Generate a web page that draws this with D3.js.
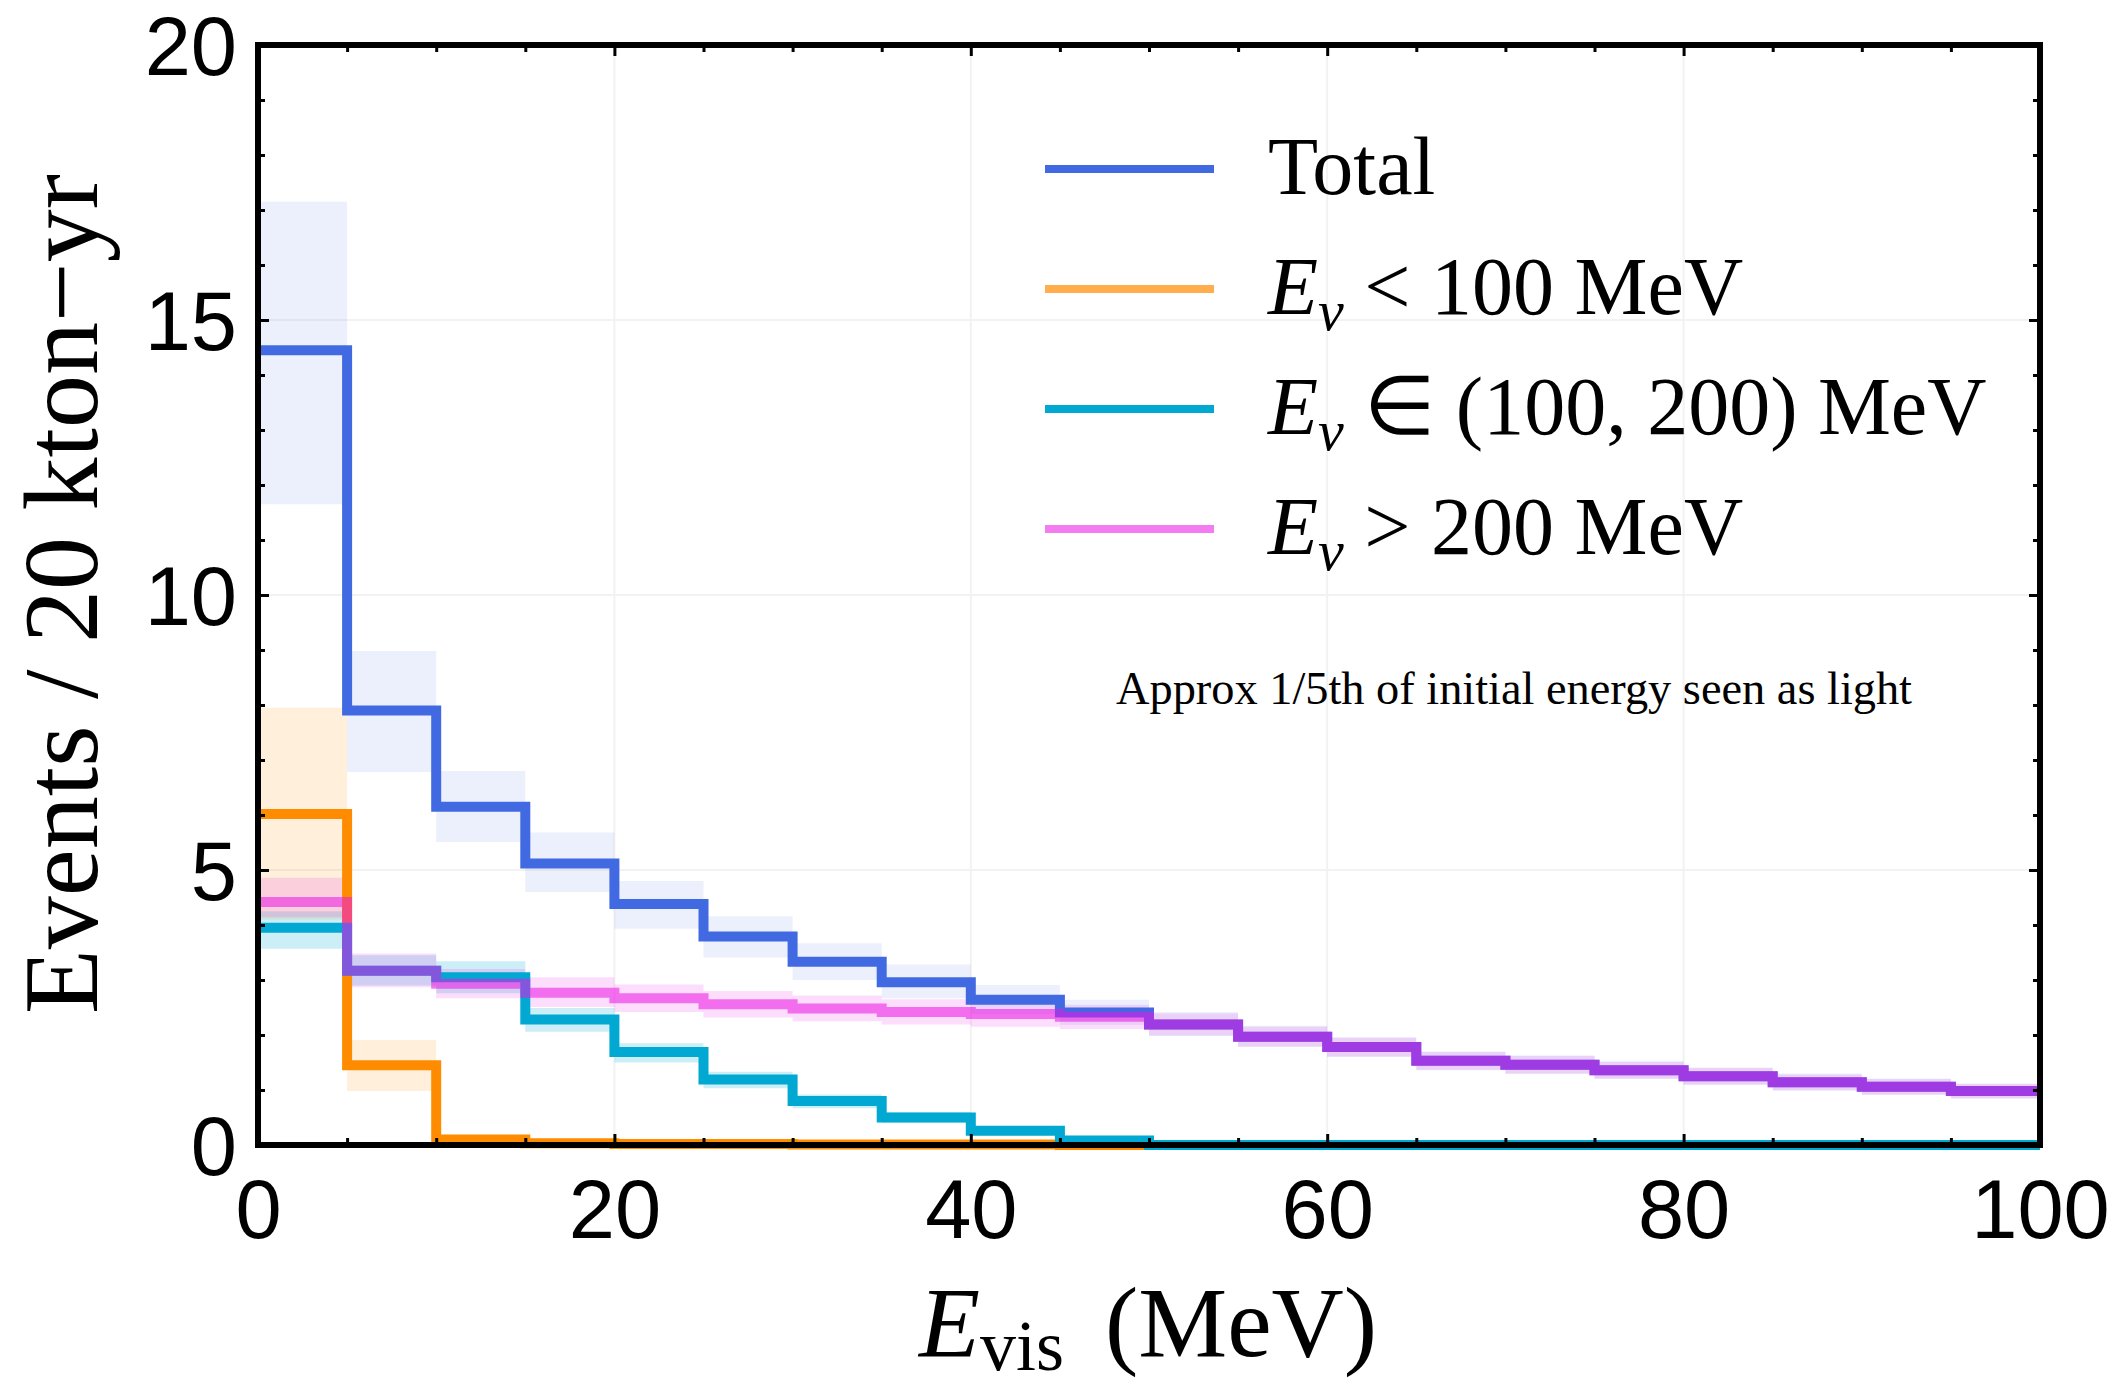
<!DOCTYPE html>
<html>
<head>
<meta charset="utf-8">
<script src="https://cdn.jsdelivr.net/npm/d3@7.9.0/dist/d3.min.js"></script>
<style>
  body { margin: 0; background: #fff; }
  svg { display: block; }
  .serif { font-family: "Liberation Serif", "Times New Roman", serif; fill: #000; }
  .tick text { font-family: "Liberation Sans", Arial, sans-serif; fill: #000; }
</style>
</head>
<body>
<svg id="chart" width="2122" height="1392"></svg>
<script>
// 1. Data (5 MeV bins, 0 - 100 MeV)
const binEdges = [0, 5, 10, 15, 20, 25, 30, 35, 40, 45, 50, 55, 60, 65, 70, 75, 80, 85, 90, 95, 100];

// Total
const totalVals = [14.45, 7.90, 6.15, 5.12, 4.38, 3.79, 3.33, 2.96, 2.64, 2.41, 2.19, 1.97, 1.78, 1.53, 1.46, 1.36, 1.25, 1.14, 1.06, 0.98];
const totalLo   = [11.65, 6.78, 5.51, 4.60, 3.93, 3.41, 3.00, 2.67, 2.38, 2.18, 1.98, 1.78, 1.60, 1.36, 1.29, 1.20, 1.09, 0.98, 0.91, 0.84];
const totalHi   = [17.15, 8.98, 6.80, 5.68, 4.80, 4.16, 3.67, 3.28, 2.91, 2.64, 2.42, 2.17, 1.96, 1.70, 1.63, 1.53, 1.41, 1.30, 1.21, 1.12];

// E_nu < 100 MeV
const lowVals = [6.02, 1.45, 0.10, 0.03, 0.02, 0.02, 0.01, 0.01, 0.01, 0, 0, 0, 0, 0, 0, 0, 0, 0, 0, 0];
const lowLo   = [4.10, 0.98, 0.05, 0.01, 0, 0, 0, 0, 0, 0, 0, 0, 0, 0, 0, 0, 0, 0, 0, 0];
const lowHi   = [7.95, 1.91, 0.16, 0.05, 0.03, 0.03, 0.02, 0.02, 0.02, 0, 0, 0, 0, 0, 0, 0, 0, 0, 0, 0];

// E_nu in (100, 200) MeV
const midVals = [3.95, 3.17, 3.05, 2.28, 1.69, 1.19, 0.80, 0.50, 0.26, 0.08, 0, 0, 0, 0, 0, 0, 0, 0, 0, 0];
const midLo   = [3.57, 2.90, 2.76, 2.06, 1.50, 1.03, 0.67, 0.40, 0.19, 0.04, 0, 0, 0, 0, 0, 0, 0, 0, 0, 0];
const midHi   = [4.25, 3.45, 3.34, 2.49, 1.85, 1.33, 0.92, 0.60, 0.33, 0.12, 0, 0, 0, 0, 0, 0, 0, 0, 0, 0];

// E_nu > 200 MeV
const highVals = [4.42, 3.17, 2.93, 2.77, 2.67, 2.56, 2.48, 2.42, 2.38, 2.33, 2.19, 1.97, 1.78, 1.53, 1.46, 1.36, 1.25, 1.14, 1.06, 0.98];
const highLo   = [4.14, 2.87, 2.67, 2.51, 2.42, 2.32, 2.25, 2.19, 2.15, 2.11, 1.99, 1.79, 1.61, 1.37, 1.30, 1.21, 1.10, 1.00, 0.92, 0.85];
const highHi   = [4.86, 3.48, 3.20, 3.05, 2.92, 2.80, 2.72, 2.65, 2.61, 2.55, 2.39, 2.15, 1.95, 1.69, 1.62, 1.51, 1.40, 1.28, 1.20, 1.11];

// Axes
const xTicks = [0, 20, 40, 60, 80, 100];
const xMinor = [5, 10, 15, 25, 30, 35, 45, 50, 55, 65, 70, 75, 85, 90, 95];
const yTicks = [0, 5, 10, 15, 20];
const yMinor = [1, 2, 3, 4, 6, 7, 8, 9, 11, 12, 13, 14, 16, 17, 18, 19];

const legendLabels = ["Total", "< 100 MeV", "\u2208 (100, 200) MeV", "> 200 MeV"];

// 2. Layout
const plotLeft = 258, plotRight = 2040, plotTop = 45, plotBottom = 1145;

const svg = d3.select('#chart');

const x = d3.scaleLinear().domain([0, 100]).range([plotLeft, plotRight]);
const y = d3.scaleLinear().domain([0, 20]).range([plotBottom, plotTop]);

const series = [
  { vals: totalVals, lo: totalLo, hi: totalHi, color: '#4169e1', bandOpacity: 0.1, lineOpacity: 1 },
  { vals: lowVals, lo: lowLo, hi: lowHi, color: '#ff8c00', bandOpacity: 0.14, lineOpacity: 1 },
  { vals: midVals, lo: midLo, hi: midHi, color: '#00a8d2', bandOpacity: 0.2, lineOpacity: 1 },
  { vals: highVals, lo: highLo, hi: highHi, color: 'rgb(234,24,228)', bandOpacity: 0.15, lineOpacity: 0.56 }
];

// turn per-bin arrays into step points (last edge repeats the last bin)
function stepPoints(arr) {
  return binEdges.map((e, i) => ({ x: e, v: arr[Math.min(i, arr.length - 1)] }));
}

// 3. Grid lines
svg.append('g')
  .selectAll('line.gx')
  .data(xTicks.slice(1, -1))
  .join('line')
  .attr('x1', d => x(d)).attr('x2', d => x(d))
  .attr('y1', plotTop).attr('y2', plotBottom)
  .attr('stroke', '#f2f2f2').attr('stroke-width', 2);

svg.append('g')
  .selectAll('line.gy')
  .data(yTicks.slice(1, -1))
  .join('line')
  .attr('x1', plotLeft).attr('x2', plotRight)
  .attr('y1', d => y(d)).attr('y2', d => y(d))
  .attr('stroke', '#f2f2f2').attr('stroke-width', 2);

// 4. Uncertainty bands
const bandArea = d3.area()
  .x(d => x(d.x))
  .y0(d => y(d.lo))
  .y1(d => y(d.hi))
  .curve(d3.curveStepAfter);

series.forEach(s => {
  const lo = stepPoints(s.lo), hi = stepPoints(s.hi);
  const pts = lo.map((p, i) => ({ x: p.x, lo: p.v, hi: hi[i].v }));
  svg.append('path')
    .attr('d', bandArea(pts))
    .attr('fill', s.color)
    .attr('fill-opacity', s.bandOpacity);
});

// 5. Step lines (orange, cyan, blue, then translucent pink on top)
const stepLine = d3.line()
  .x(d => x(d.x))
  .y(d => y(d.v))
  .curve(d3.curveStepAfter);

[1, 2, 0, 3].forEach(idx => {
  const s = series[idx];
  svg.append('path')
    .attr('d', stepLine(stepPoints(s.vals)))
    .attr('fill', 'none')
    .attr('stroke', s.color)
    .attr('stroke-opacity', s.lineOpacity)
    .attr('stroke-width', 10)
    .attr('stroke-linejoin', 'miter');
});

// 6. Axes (ticks inward on all four sides)
const tickFont = 83;

const xAxis = svg.append('g')
  .attr('transform', `translate(0,${plotBottom})`)
  .call(d3.axisBottom(x).tickValues(xTicks).tickSize(-11).tickFormat(d3.format('d')));
xAxis.selectAll('text').attr('y', 93).attr('dy', 0).attr('font-size', tickFont);

svg.append('g')
  .attr('transform', `translate(0,${plotBottom})`)
  .call(d3.axisBottom(x).tickValues(xMinor).tickSize(-7).tickFormat(''));
svg.append('g')
  .attr('transform', `translate(0,${plotTop})`)
  .call(d3.axisTop(x).tickValues(xTicks).tickSize(-11).tickFormat(''));
svg.append('g')
  .attr('transform', `translate(0,${plotTop})`)
  .call(d3.axisTop(x).tickValues(xMinor).tickSize(-7).tickFormat(''));

const yAxis = svg.append('g')
  .attr('transform', `translate(${plotLeft},0)`)
  .call(d3.axisLeft(y).tickValues(yTicks).tickSize(-11).tickFormat(d3.format('d')));
yAxis.selectAll('text').attr('x', -21).attr('dy', '0.36em').attr('font-size', tickFont);

svg.append('g')
  .attr('transform', `translate(${plotLeft},0)`)
  .call(d3.axisLeft(y).tickValues(yMinor).tickSize(-7).tickFormat(''));
svg.append('g')
  .attr('transform', `translate(${plotRight},0)`)
  .call(d3.axisRight(y).tickValues(yTicks).tickSize(-11).tickFormat(''));
svg.append('g')
  .attr('transform', `translate(${plotRight},0)`)
  .call(d3.axisRight(y).tickValues(yMinor).tickSize(-7).tickFormat(''));

svg.selectAll('.domain').remove();
svg.selectAll('.tick line').attr('stroke', '#000').attr('stroke-width', 3);

// frame
svg.append('rect')
  .attr('x', plotLeft).attr('y', plotTop)
  .attr('width', plotRight - plotLeft).attr('height', plotBottom - plotTop)
  .attr('fill', 'none').attr('stroke', '#000').attr('stroke-width', 6);

// 7. Axis titles
svg.append('text')
  .attr('class', 'serif')
  .attr('transform', 'translate(97,594) rotate(-90)')
  .attr('text-anchor', 'middle')
  .attr('font-size', 106)
  .text('Events / 20 kton\u2212yr');

// sits a little higher than the original so the subscript is not clipped
const xTitle = svg.append('text')
  .attr('class', 'serif')
  .attr('x', 1148).attr('y', 1356)
  .attr('text-anchor', 'middle')
  .attr('font-size', 100);
xTitle.append('tspan').attr('font-style', 'italic').text('E');
xTitle.append('tspan').attr('font-size', 72).attr('dy', 14).text('vis');
xTitle.append('tspan').attr('dy', -14).attr('dx', 16).text(' (MeV)');

// 8. Legend
const legendColors = ['#4169e1', '#ffad4d', '#00a8d2', 'rgb(234,24,228)'];
const legendOpacity = [1, 1, 1, 0.56];

legendLabels.forEach((label, i) => {
  const ly = 169 + i * 120;
  svg.append('line')
    .attr('x1', 1045).attr('x2', 1214)
    .attr('y1', ly).attr('y2', ly)
    .attr('stroke', legendColors[i])
    .attr('stroke-opacity', legendOpacity[i])
    .attr('stroke-width', 8);

  const t = svg.append('text')
    .attr('class', 'serif')
    .attr('x', 1268).attr('y', ly + 25)
    .attr('font-size', 82);
  if (i === 0) {
    t.text(label);
  } else {
    t.append('tspan').attr('font-style', 'italic').text('E');
    t.append('tspan').attr('font-style', 'italic').attr('font-size', 58).attr('dy', 16).text('\u03bd');
    t.append('tspan').attr('dy', -16).text(' ' + label);
  }
});

// 9. Note
svg.append('text')
  .attr('class', 'serif')
  .attr('x', 1116).attr('y', 704)
  .attr('font-size', 46)
  .attr('textLength', 796)
  .attr('lengthAdjust', 'spacingAndGlyphs')
  .text('Approx 1/5th of initial energy seen as light');
</script>
</body>
</html>
